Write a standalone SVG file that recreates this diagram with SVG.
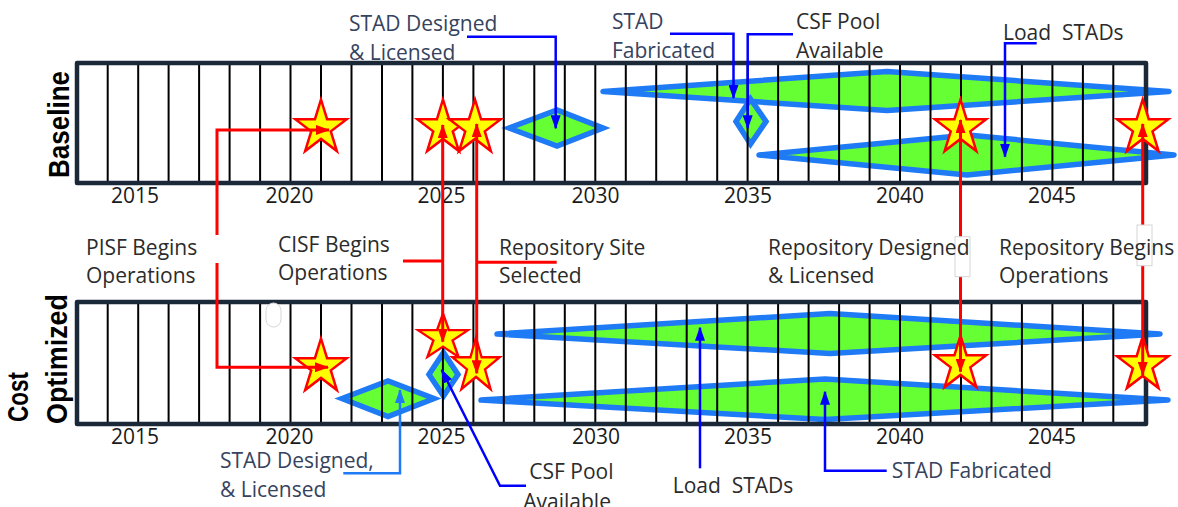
<svg xmlns="http://www.w3.org/2000/svg" xmlns:xlink="http://www.w3.org/1999/xlink" width="1178" height="507" viewBox="0 0 1178 507">
<style>
.bg{fill:#ffffff}
.grid{stroke:#000000;stroke-width:2}
.frame{fill:none;stroke:#1b2838;stroke-width:4.5;stroke-linejoin:round}
.dlong{fill:#66ff33;stroke:#1f7af5;stroke-width:5.5;stroke-linejoin:round}
.dshort{fill:#66ff33;stroke:#1f7af5;stroke-width:5.5;stroke-linejoin:miter}
.star{fill:#ffff00;stroke:#ff0000;stroke-width:2.5;stroke-linejoin:miter}
.red{fill:none;stroke:#ff0000;stroke-width:3}
.blue{fill:none;stroke:#0000ff;stroke-width:2.5}
.lblue{fill:none;stroke:#1f7af5;stroke-width:2.5}
.yr{font-family:"Open Sans","Liberation Sans",sans-serif;font-size:21px;fill:#1a1a1a;text-anchor:middle}
.lbl{font-family:"Open Sans","Liberation Sans",sans-serif;font-size:21px;fill:#2b2b2b}
.stad{font-family:"Open Sans","Liberation Sans",sans-serif;font-size:21px;fill:#36435e}
.side{font-family:"Liberation Sans",Arial,sans-serif;font-size:29px;font-weight:bold;fill:#000000}
.cover{fill:#ffffff;stroke:#d6d6d6;stroke-width:1}
</style>
<defs>
<path id="star" d="M0,-28.5 L6.05,-8.82 L25.68,-8.81 L9.8,3.37 L15.87,23.06 L0,10.9 L-15.87,23.06 L-9.8,3.37 L-25.68,-8.81 L-6.05,-8.82 Z"/>
<marker id="ar" markerUnits="userSpaceOnUse" markerWidth="14" markerHeight="10" viewBox="0 0 14 10" refX="13" refY="5" orient="auto-start-reverse"><path d="M0,0 L14,5 L0,10 Z" fill="#ff0000"/></marker>
<marker id="ab" markerUnits="userSpaceOnUse" markerWidth="14" markerHeight="10" viewBox="0 0 14 10" refX="13" refY="5" orient="auto"><path d="M0,0 L14,5 L0,10 Z" fill="#0000ff"/></marker>
<marker id="alb" markerUnits="userSpaceOnUse" markerWidth="14" markerHeight="10" viewBox="0 0 14 10" refX="13" refY="5" orient="auto"><path d="M0,0 L14,5 L0,10 Z" fill="#1f7af5"/></marker>
</defs>

<g id="panel-baseline">
<rect class="bg" x="77" y="63" width="1069" height="120"/>
<polygon class="dlong" points="603,91.5 887,71.5 1169,91.5 887,110.5"/>
<polygon class="dlong" points="759,155 968,135 1174,155 967,175"/>
<polygon class="dshort" points="509,128 557,110 603,128 557,146"/>
<polygon class="dshort" points="750.5,99 766,121.5 750.5,144 736,121.5"/>
<g class="grid">
<line x1="107.7" y1="63" x2="107.7" y2="183"/><line x1="138.2" y1="63" x2="138.2" y2="183"/><line x1="168.6" y1="63" x2="168.6" y2="183"/><line x1="199.1" y1="63" x2="199.1" y2="183"/><line x1="229.6" y1="63" x2="229.6" y2="183"/><line x1="260.1" y1="63" x2="260.1" y2="183"/><line x1="290.5" y1="63" x2="290.5" y2="183"/><line x1="321" y1="63" x2="321" y2="183"/><line x1="351.5" y1="63" x2="351.5" y2="183"/><line x1="382" y1="63" x2="382" y2="183"/><line x1="412.4" y1="63" x2="412.4" y2="183"/><line x1="442.9" y1="63" x2="442.9" y2="183"/><line x1="473.4" y1="63" x2="473.4" y2="183"/><line x1="503.8" y1="63" x2="503.8" y2="183"/><line x1="534.3" y1="63" x2="534.3" y2="183"/><line x1="564.8" y1="63" x2="564.8" y2="183"/><line x1="595.3" y1="63" x2="595.3" y2="183"/><line x1="625.8" y1="63" x2="625.8" y2="183"/><line x1="656.2" y1="63" x2="656.2" y2="183"/><line x1="686.7" y1="63" x2="686.7" y2="183"/><line x1="717.2" y1="63" x2="717.2" y2="183"/><line x1="747.6" y1="63" x2="747.6" y2="183"/><line x1="778.1" y1="63" x2="778.1" y2="183"/><line x1="808.6" y1="63" x2="808.6" y2="183"/><line x1="839.1" y1="63" x2="839.1" y2="183"/><line x1="869.6" y1="63" x2="869.6" y2="183"/><line x1="900" y1="63" x2="900" y2="183"/><line x1="930.5" y1="63" x2="930.5" y2="183"/><line x1="961" y1="63" x2="961" y2="183"/><line x1="991.5" y1="63" x2="991.5" y2="183"/><line x1="1021.9" y1="63" x2="1021.9" y2="183"/><line x1="1052.4" y1="63" x2="1052.4" y2="183"/><line x1="1082.9" y1="63" x2="1082.9" y2="183"/><line x1="1113.3" y1="63" x2="1113.3" y2="183"/>
</g>
<rect class="frame" x="77" y="63" width="1069" height="120"/>
<use href="#star" class="star" transform="translate(321,128)"/>
<use href="#star" class="star" transform="translate(443,128)"/>
<use href="#star" class="star" transform="translate(475,128)"/>
<use href="#star" class="star" transform="translate(960.5,128)"/>
<use href="#star" class="star" transform="translate(1142.7,128)"/>
<g class="yr">
<text x="135" y="203">2015</text><text x="289.5" y="203">2020</text><text x="441.5" y="203">2025</text><text x="595.5" y="203">2030</text><text x="748" y="203">2035</text><text x="900" y="203">2040</text><text x="1052" y="203">2045</text>
</g>
<text class="side" transform="translate(69,124.5) rotate(-90)" text-anchor="middle" textLength="107" lengthAdjust="spacingAndGlyphs">Baseline</text>
</g>

<g id="panel-optimized">
<rect class="bg" x="77" y="302" width="1069" height="122"/>
<polygon class="dlong" points="497,334 830,313.5 1160,334 830,353.5"/>
<polygon class="dlong" points="481,400 825,379 1168,400 825,419.5"/>
<polygon class="dshort" points="342,398.5 388,381 434,398.5 388,416.5"/>
<polygon class="dshort" points="443.5,352.5 458,374.5 443.5,396 429,374.5"/>
<g class="grid">
<line x1="107.7" y1="302" x2="107.7" y2="424"/><line x1="138.2" y1="302" x2="138.2" y2="424"/><line x1="168.6" y1="302" x2="168.6" y2="424"/><line x1="199.1" y1="302" x2="199.1" y2="424"/><line x1="229.6" y1="302" x2="229.6" y2="424"/><line x1="260.1" y1="302" x2="260.1" y2="424"/><line x1="290.5" y1="302" x2="290.5" y2="424"/><line x1="321" y1="302" x2="321" y2="424"/><line x1="351.5" y1="302" x2="351.5" y2="424"/><line x1="382" y1="302" x2="382" y2="424"/><line x1="412.4" y1="302" x2="412.4" y2="424"/><line x1="442.9" y1="302" x2="442.9" y2="424"/><line x1="473.4" y1="302" x2="473.4" y2="424"/><line x1="503.8" y1="302" x2="503.8" y2="424"/><line x1="534.3" y1="302" x2="534.3" y2="424"/><line x1="564.8" y1="302" x2="564.8" y2="424"/><line x1="595.3" y1="302" x2="595.3" y2="424"/><line x1="625.8" y1="302" x2="625.8" y2="424"/><line x1="656.2" y1="302" x2="656.2" y2="424"/><line x1="686.7" y1="302" x2="686.7" y2="424"/><line x1="717.2" y1="302" x2="717.2" y2="424"/><line x1="747.6" y1="302" x2="747.6" y2="424"/><line x1="778.1" y1="302" x2="778.1" y2="424"/><line x1="808.6" y1="302" x2="808.6" y2="424"/><line x1="839.1" y1="302" x2="839.1" y2="424"/><line x1="869.6" y1="302" x2="869.6" y2="424"/><line x1="900" y1="302" x2="900" y2="424"/><line x1="930.5" y1="302" x2="930.5" y2="424"/><line x1="961" y1="302" x2="961" y2="424"/><line x1="991.5" y1="302" x2="991.5" y2="424"/><line x1="1021.9" y1="302" x2="1021.9" y2="424"/><line x1="1052.4" y1="302" x2="1052.4" y2="424"/><line x1="1082.9" y1="302" x2="1082.9" y2="424"/><line x1="1113.3" y1="302" x2="1113.3" y2="424"/>
</g>
<rect class="frame" x="77" y="302" width="1069" height="122"/>
<rect class="cover" x="266" y="303" width="15" height="24" rx="7.5"/>
<use href="#star" class="star" transform="translate(321,367)"/>
<use href="#star" class="star" transform="translate(443,337.5) scale(0.98,0.84)"/>
<use href="#star" class="star" transform="translate(476,366) scale(0.92,1)"/>
<use href="#star" class="star" transform="translate(960.5,364)"/>
<use href="#star" class="star" transform="translate(1142.7,365)"/>
<g class="yr">
<text x="135" y="444">2015</text><text x="289.5" y="444">2020</text><text x="441.5" y="444">2025</text><text x="596" y="444">2030</text><text x="748" y="444">2035</text><text x="900" y="444">2040</text><text x="1052" y="444">2045</text>
</g>
<text class="side" transform="translate(28,422) rotate(-90)" textLength="50" lengthAdjust="spacingAndGlyphs">Cost</text>
<text class="side" transform="translate(67,424) rotate(-90)" textLength="130" lengthAdjust="spacingAndGlyphs">Optimized</text>
</g>

<g id="connectors">
<path class="red" d="M217,235 V130 H329" marker-end="url(#ar)"/>
<path class="red" d="M217,263 V367.3 H328" marker-end="url(#ar)"/>
<path class="red" d="M442.7,341.7 V125" marker-start="url(#ar)" marker-end="url(#ar)"/>
<path class="red" d="M403,261 H442.7"/>
<path class="red" d="M476.7,373.3 V124" marker-start="url(#ar)" marker-end="url(#ar)"/>
<path class="red" d="M476.7,262.3 H556.7"/>
<path class="red" d="M960.5,371.7 V120" marker-start="url(#ar)" marker-end="url(#ar)"/>
<path class="red" d="M1142.7,375 V124" marker-start="url(#ar)" marker-end="url(#ar)"/>
<path class="blue" d="M467,36.7 H555.7 V128.3" marker-end="url(#ab)"/>
<path class="blue" d="M670,33.7 H733.5 V98" marker-end="url(#ab)"/>
<path class="blue" d="M793,34.3 H747.7 V128.3" marker-end="url(#ab)"/>
<path class="blue" d="M1036.7,43.3 H1005 V156.7" marker-end="url(#ab)"/>
<path class="lblue" d="M343.3,473.3 H400 V390" marker-end="url(#alb)"/>
<path class="blue" d="M526,485.7 H500 L441.7,370" marker-end="url(#ab)"/>
<path class="blue" d="M700,468.3 V327.7" marker-end="url(#ab)"/>
<path class="blue" d="M886.7,470.7 H825 V391.7" marker-end="url(#ab)"/>
</g>

<g id="line-covers">
<rect class="cover" x="955" y="236.7" width="15" height="40"/>
<rect class="cover" x="1137" y="225" width="15" height="40.7"/>
</g>

<g id="label-stad-designed-top"><text class="stad" x="349" y="30.5">STAD Designed</text><text class="stad" x="349" y="60">&amp; Licensed</text></g>
<g id="label-stad-fabricated-top"><text class="stad" x="612" y="29.3">STAD</text><text class="stad" x="612" y="58.3">Fabricated</text></g>
<g id="label-csf-top"><text class="lbl" x="796" y="29.3">CSF Pool</text><text class="lbl" x="796" y="58.3">Available</text></g>
<g id="label-load-top"><text class="lbl" x="1003" y="40" xml:space="preserve" style="white-space:pre">Load  STADs</text></g>
<g id="label-pisf"><text class="lbl" x="86" y="255">PISF Begins</text><text class="lbl" x="86" y="283.3">Operations</text></g>
<g id="label-cisf"><text class="lbl" x="278" y="251.7">CISF Begins</text><text class="lbl" x="278" y="280">Operations</text></g>
<g id="label-site"><text class="lbl" x="499" y="255">Repository Site</text><text class="lbl" x="499" y="283.3">Selected</text></g>
<g id="label-repo-designed"><text class="lbl" x="768" y="255">Repository Designed</text><text class="lbl" x="768" y="283.3">&amp; Licensed</text></g>
<g id="label-repo-begins"><text class="lbl" x="999" y="255">Repository Begins</text><text class="lbl" x="999" y="283.3">Operations</text></g>
<g id="label-stad-designed-bottom"><text class="stad" x="220" y="468.3">STAD Designed,</text><text class="stad" x="220" y="496.7">&amp; Licensed</text></g>
<g id="label-csf-bottom"><text class="lbl" x="529.3" y="479.3">CSF Pool</text><text class="lbl" x="523.3" y="509">Available</text></g>
<g id="label-load-bottom"><text class="lbl" x="672.7" y="492.7" xml:space="preserve" style="white-space:pre">Load  STADs</text></g>
<g id="label-stad-fabricated-bottom"><text class="stad" x="891.7" y="478.3">STAD Fabricated</text></g>
</svg>
